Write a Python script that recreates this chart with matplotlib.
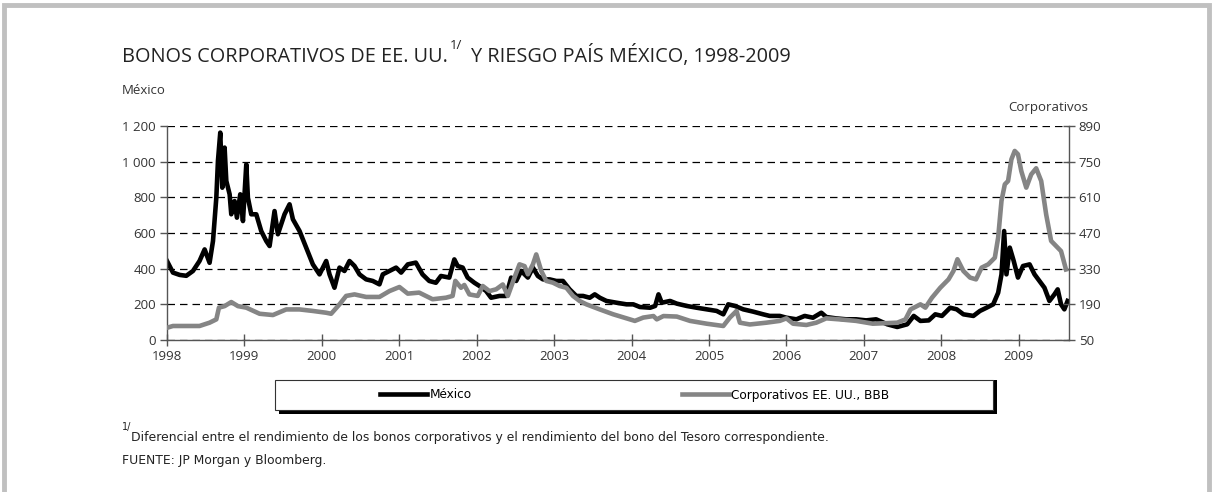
import matplotlib
matplotlib.use("Agg")
import matplotlib.pyplot as plt
from matplotlib.patches import Rectangle
from matplotlib.lines import Line2D

plt.rcParams['font.family'] = ['Open Sans', 'DejaVu Sans']
narrow = ['Liberation Sans Narrow', 'DejaVu Sans']

# Decimal-year dates and spreads
mex_t = [1998.00, 1998.077, 1998.163, 1998.249, 1998.335, 1998.42, 1998.486, 1998.55,
         1998.594, 1998.637, 1998.658, 1998.688, 1998.714, 1998.744, 1998.766, 1998.809,
         1998.83, 1998.873, 1998.903, 1998.946, 1998.981, 1999.024, 1999.045, 1999.088,
         1999.153, 1999.217, 1999.282, 1999.325, 1999.389, 1999.432, 1999.475, 1999.518,
         1999.583, 1999.626, 1999.712, 1999.798, 1999.884, 1999.97, 2000.056, 2000.099,
         2000.163, 2000.228, 2000.292, 2000.357, 2000.422, 2000.486, 2000.572, 2000.658,
         2000.744, 2000.787, 2000.873, 2000.959, 2001.024, 2001.11, 2001.214, 2001.30,
         2001.387, 2001.473, 2001.538, 2001.646, 2001.711, 2001.754, 2001.819, 2001.883,
         2001.97, 2002.035, 2002.121, 2002.186, 2002.294, 2002.38, 2002.445, 2002.51,
         2002.575, 2002.661, 2002.726, 2002.79, 2002.855, 2002.942, 2003.028, 2003.114,
         2003.20, 2003.287, 2003.374, 2003.46, 2003.525, 2003.59, 2003.676, 2003.806,
         2003.935, 2004.022, 2004.108, 2004.24, 2004.305, 2004.348, 2004.39, 2004.498,
         2004.584, 2004.712, 2004.841, 2004.97, 2005.099, 2005.185, 2005.249, 2005.335,
         2005.442, 2005.571, 2005.70, 2005.785, 2005.914, 2006.0, 2006.129, 2006.236,
         2006.343, 2006.451, 2006.515, 2006.644, 2006.773, 2006.90, 2007.03, 2007.159,
         2007.303, 2007.432, 2007.56, 2007.645, 2007.731, 2007.838, 2007.923, 2008.009,
         2008.115, 2008.20, 2008.286, 2008.415, 2008.50, 2008.585, 2008.671, 2008.735,
         2008.778, 2008.812, 2008.842, 2008.885, 2008.936, 2008.991, 2009.056, 2009.141,
         2009.205, 2009.269, 2009.333, 2009.397, 2009.462, 2009.504, 2009.547, 2009.59,
         2009.632]
mex_v = [443, 378, 365, 360, 387, 443, 508, 433,
         555, 798, 1004, 1163, 854, 1079, 892, 817,
         705, 779, 686, 817, 667, 985, 798, 705,
         705, 611, 555, 527, 723, 593, 649, 705,
         761, 677, 611, 518, 424, 368, 443, 368,
         293, 406, 387, 443, 415, 368, 340, 331,
         312, 368, 387, 406, 378, 424, 434, 368,
         331, 321, 359, 350, 452, 415, 406, 350,
         321, 303, 275, 237, 247, 247, 350, 331,
         387, 350, 406, 359, 340, 340, 331, 331,
         284, 247, 247, 237, 256, 237, 219, 209,
         200, 200, 185, 181, 191, 256, 209, 219,
         204, 191, 181, 172, 163, 144, 200, 191,
         172, 159, 144, 135, 135, 125, 116, 135,
         125, 153, 129, 121, 116, 116, 110, 116,
         88, 73, 88, 135, 107, 110, 144, 135,
         181, 172, 144, 135, 163, 181, 200, 265,
         368, 611, 368, 518, 443, 350, 415, 424,
         368, 331, 293, 219, 256, 284, 200, 172,
         219]

corp_t = [1998.0, 1998.077, 1998.249, 1998.42, 1998.55, 1998.637, 1998.671, 1998.744,
          1998.83, 1998.916, 1999.024, 1999.196, 1999.368, 1999.54, 1999.712, 1999.884,
          2000.056, 2000.12, 2000.228, 2000.314, 2000.422, 2000.572, 2000.744, 2000.873,
          2001.002, 2001.11, 2001.257, 2001.43, 2001.603, 2001.689, 2001.724, 2001.797,
          2001.84, 2001.905, 2002.013, 2002.078, 2002.164, 2002.251, 2002.337, 2002.402,
          2002.488, 2002.553, 2002.618, 2002.661, 2002.726, 2002.769, 2002.834, 2002.898,
          2002.985, 2003.071, 2003.158, 2003.244, 2003.33, 2003.417, 2003.59, 2003.762,
          2003.935, 2004.043, 2004.151, 2004.283, 2004.326, 2004.412, 2004.584, 2004.755,
          2004.97, 2005.185, 2005.27, 2005.356, 2005.399, 2005.528, 2005.742, 2005.914,
          2006.0, 2006.086, 2006.258, 2006.386, 2006.515, 2006.687, 2006.901, 2007.116,
          2007.432, 2007.538, 2007.603, 2007.731, 2007.795, 2007.88, 2007.987, 2008.094,
          2008.158, 2008.209, 2008.286, 2008.372, 2008.449, 2008.521, 2008.607, 2008.692,
          2008.735, 2008.778, 2008.821, 2008.863, 2008.906, 2008.949, 2008.991, 2009.034,
          2009.098, 2009.162, 2009.226, 2009.291, 2009.355, 2009.419, 2009.483, 2009.547,
          2009.611]
corp_v = [98, 105, 105, 105, 118, 131, 177, 183,
          199, 183, 177, 153, 148, 170, 170, 164,
          157, 153, 190, 223, 229, 219, 219, 242,
          258, 232, 236, 210, 216, 223, 282, 255,
          266, 229, 223, 262, 242, 249, 268, 223,
          295, 347, 340, 308, 347, 386, 321, 282,
          275, 262, 255, 223, 203, 190, 170, 151,
          135, 125, 138, 144, 131, 144, 142, 125,
          114, 105, 138, 164, 118, 111, 118, 125,
          135, 114, 109, 118, 135, 131, 125, 114,
          118, 131, 170, 190, 177, 216, 255, 288,
          321, 367, 321, 295, 288, 334, 347, 373,
          452, 596, 661, 674, 759, 792, 779, 713,
          648, 700, 724, 674, 543, 439, 419, 399,
          327]

years = list(range(1998, 2010))
left_ticks = [0, 200, 400, 600, 800, 1000, 1200]
left_labels = ['0', '200', '400', '600', '800', '1 000', '1 200']
right_ticks = [50, 190, 330, 470, 610, 750, 890]

W, H = 1214, 492
fig = plt.figure(figsize=(W / 100, H / 100), dpi=100)
ax = fig.add_axes([167 / W, 1 - 340 / H, 902 / W, 214 / H])
ax2 = ax.twinx()

axis_col = '#555555'
lab_col = '#333333'
txt_col = '#222222'

l1, = ax.plot(mex_t, mex_v, color='black', lw=3.3, solid_joinstyle='round')
l2, = ax2.plot(corp_t, corp_v, color='#858585', lw=3.3, solid_joinstyle='round')

ax.set_xlim(1998, 2009.65)
ax.set_ylim(0, 1200)
ax2.set_ylim(50, 890)
ax.set_xticks(years)
ax.set_xticklabels([str(y) for y in years])
ax.set_yticks(left_ticks)
ax.set_yticklabels(left_labels)
ax2.set_yticks(right_ticks)

ax.yaxis.grid(True, linestyle=(0, (6, 4)), color='black', lw=0.9)
ax.set_axisbelow(True)

for a in (ax, ax2):
    a.spines['top'].set_visible(False)
    for s in ('left', 'right', 'bottom'):
        a.spines[s].set_color(axis_col)
        a.spines[s].set_linewidth(1)
ax.spines['right'].set_visible(False)
ax2.spines['left'].set_visible(False)
ax2.spines['bottom'].set_visible(False)

ax.tick_params(axis='x', direction='inout', length=8, width=1, color=axis_col,
               labelsize=9.5, labelcolor=lab_col, pad=3)
ax.tick_params(axis='y', direction='out', length=5, width=1, color=axis_col,
               labelsize=9.5, labelcolor=lab_col, pad=3)
ax2.tick_params(axis='y', direction='inout', length=8, width=1, color=axis_col,
                labelsize=9.5, labelcolor=lab_col, pad=3)

# axis captions
fig.text(122 / W, 1 - 91 / H, 'México', fontsize=9.5, color=lab_col, va='center')
fig.text(1088 / W, 1 - 108 / H, 'Corporativos', fontsize=9.5, color=lab_col,
         va='center', ha='right')

# title with superscript, pieces placed side by side
fig.canvas.draw()
r = fig.canvas.get_renderer()
base = 62
tsize = 14.3
t1 = fig.text(122 / W, 1 - base / H, 'BONOS CORPORATIVOS DE EE. UU.', fontsize=tsize,
              color=txt_col, va='baseline')
x1 = t1.get_window_extent(r).x1
t2 = fig.text((x1 + 2) / W, 1 - (base - 13) / H, '1/', fontsize=9.5, color=txt_col,
              va='baseline')
x2 = t2.get_window_extent(r).x1
fig.text((x2 + 9) / W, 1 - base / H, 'Y RIESGO PAÍS MÉXICO, 1998-2009', fontsize=tsize,
         color=txt_col, va='baseline')

# legend box with shadow
fig.patches.append(Rectangle((279 / W, 1 - 414 / H), 718 / W, 34 / H,
                             transform=fig.transFigure, facecolor='black',
                             edgecolor='none', zorder=1))
fig.patches.append(Rectangle((275 / W, 1 - 410 / H), 718 / W, 30 / H,
                             transform=fig.transFigure, facecolor='white',
                             edgecolor='#333333', lw=0.8, zorder=2))
leg = fig.legend([l1, l2], ['México', 'Corporativos EE. UU., BBB'], ncol=2,
                 loc='center left', bbox_to_anchor=(380 / W, 1 - 395 / H),
                 frameon=False, handlelength=3.9, handletextpad=0.2,
                 columnspacing=17.4, borderpad=0, borderaxespad=0,
                 prop={'family': narrow, 'size': 8.7})
leg.set_zorder(5)

# footnotes
fig.text(122 / W, 1 - 430 / H, '1/', fontsize=7, color=txt_col, va='baseline',
         family=narrow)
fig.text(131 / W, 1 - 441 / H,
         'Diferencial entre el rendimiento de los bonos corporativos y el rendimiento '
         'del bono del Tesoro correspondiente.', fontsize=8.9, color=txt_col,
         va='baseline', family=narrow)
fig.text(122 / W, 1 - 464 / H, 'FUENTE: JP Morgan y Bloomberg.', fontsize=8.9,
         color=txt_col, va='baseline', family=narrow)

# outer grey frame (left, top, right)
frame_col = '#c0c0c0'
fig.lines.append(Line2D([4 / W, 4 / W, 1 - 5 / W, 1 - 5 / W],
                        [0, 1 - 5 / H, 1 - 5 / H, 0], transform=fig.transFigure,
                        color=frame_col, lw=3.5, solid_joinstyle='miter'))

fig.savefig('out.png', dpi=100, facecolor='white')
